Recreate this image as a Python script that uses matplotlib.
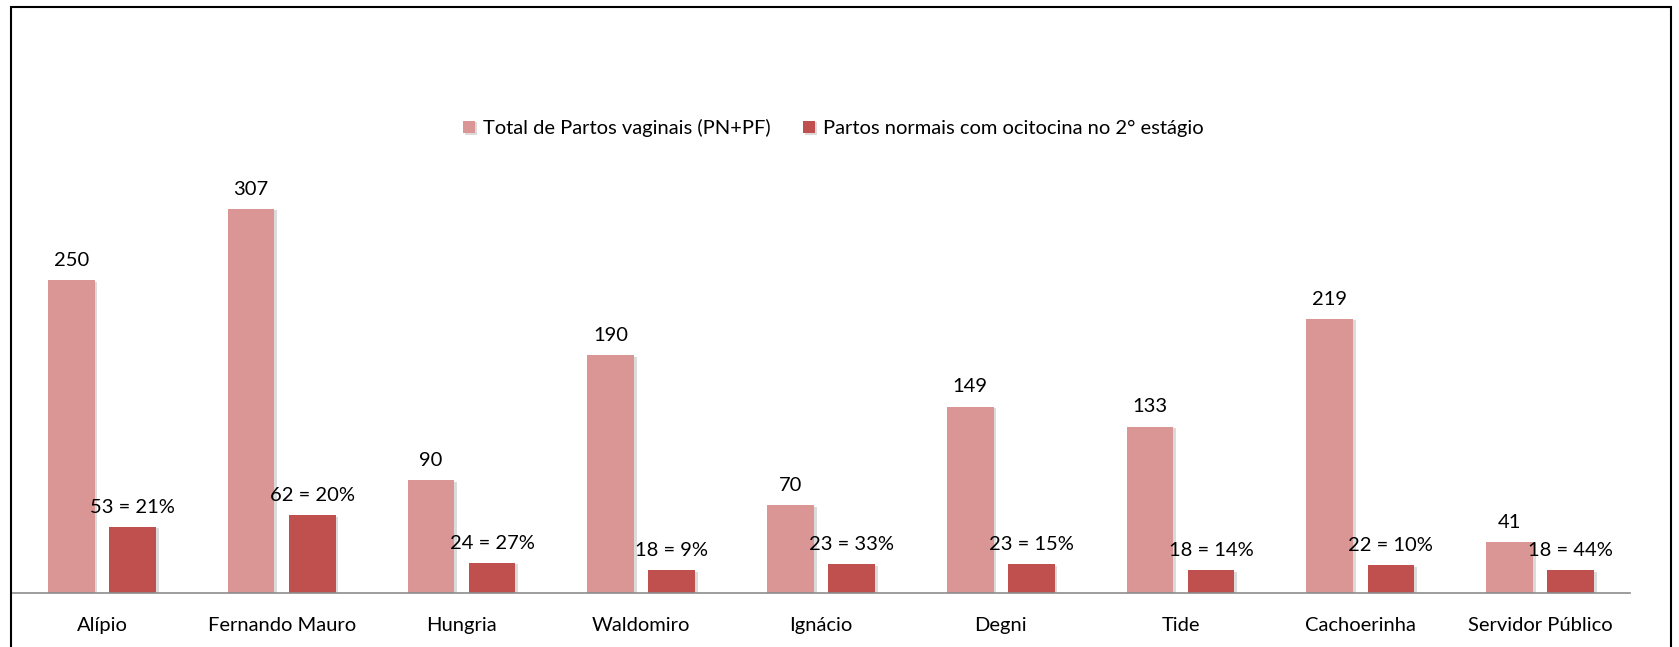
import matplotlib.pyplot as plt
import matplotlib.patheffects as pe
from matplotlib.patches import Rectangle
import numpy as np

# Data
hospitals = ["Alípio", "Fernando Mauro", "Hungria", "Waldomiro", "Ignácio",
             "Degni", "Tide", "Cachoerinha", "Servidor Público"]
total_vaginais = [250, 307, 90, 190, 70, 149, 133, 219, 41]
com_ocitocina = [53, 62, 24, 18, 23, 23, 18, 22, 18]
percentuais = [21, 20, 27, 9, 33, 15, 14, 10, 44]

plt.rcParams["font.family"] = ["Lato", "DejaVu Sans"]
plt.rcParams["font.size"] = 14.5

fig = plt.figure(figsize=(16.79, 6.47), dpi=100)
ax = fig.add_axes([12 / 1679, 1 - 593 / 647, (1630 - 12) / 1679, 438 / 647])

x = np.arange(len(hospitals))
w = 0.26
off = 0.17
shadow = [pe.SimplePatchShadow(offset=(2, -1), shadow_rgbFace="#999999", alpha=0.35), pe.Normal()]

b1 = ax.bar(x - off, total_vaginais, w, color="#D99694", label="Total de Partos vaginais (PN+PF)",
            path_effects=shadow, zorder=2)
b2 = ax.bar(x + off, com_ocitocina, w, color="#C0504D", label="Partos normais com ocitocina no 2° estágio",
            path_effects=shadow, zorder=2)

for rect, v in zip(b1, total_vaginais):
    ax.annotate(str(v), (rect.get_x() + rect.get_width() / 2, rect.get_height()),
                xytext=(0, 8), textcoords="offset points", ha="center", va="bottom", zorder=3)
for rect, v, p in zip(b2, com_ocitocina, percentuais):
    ax.annotate(f"{v} = {p}%", (rect.get_x() + rect.get_width() / 2, rect.get_height()),
                xytext=(0, 8), textcoords="offset points", ha="center", va="bottom", zorder=3)

ax.set_xlim(-0.5, len(hospitals) - 0.5)
ax.set_ylim(0, 350)
ax.set_xticks(x)
ax.set_xticklabels(hospitals)
ax.tick_params(axis="x", length=0, pad=17)
ax.set_yticks([])
for s in ["top", "right", "left"]:
    ax.spines[s].set_visible(False)
ax.spines["bottom"].set_color("#8C8C8C")
ax.spines["bottom"].set_linewidth(1.2)

fig.legend(loc="center", bbox_to_anchor=(833 / 1679, 1 - 128 / 647), ncol=2, frameon=False,
           handlelength=0.6, handleheight=0.6, handletextpad=0.4, columnspacing=1.6)

# outer chart border
fig.patches.append(Rectangle((11 / 1679, -0.05), (1671 - 11) / 1679, 1.05 - 7 / 647,
                             transform=fig.transFigure, fill=False, edgecolor="black", linewidth=1.5))

plt.savefig("out.png", dpi=100)
